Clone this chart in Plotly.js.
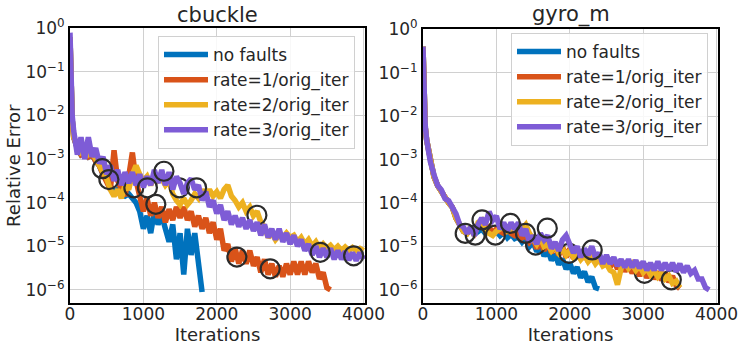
<!DOCTYPE html>
<html>
<head>
<meta charset="utf-8">
<script src="https://cdn.plot.ly/plotly-3.0.1.min.js"></script>
<style>html,body{margin:0;padding:0;background:#fff;}#chart{width:739px;height:345px;}</style>
</head>
<body>
<div id="chart"></div>
<script>
// Iteration grid shared by all series
const iterations = [0,15,30,50,100,150,200,250,300,350,400,450,500,550,600,650,700,750,800,850,900,950,1000,1050,1100,1150,1200,1250,1300,1350,1400,1450,1500,1550,1600,1650,1700,1750,1800,1850,1900,1950,2000,2050,2100,2150,2200,2250,2300,2350,2400,2450,2500,2550,2600,2650,2700,2750,2800,2850,2900,2950,3000,3050,3100,3150,3200,3250,3300,3350,3400,3450,3500,3550,3600,3650,3700,3750,3800,3850,3900,3950,4000];

const seriesNames = ["no faults", "rate=1/orig_iter", "rate=2/orig_iter", "rate=3/orig_iter"];
const seriesColors = ["#0072BD", "#D95319", "#EDB120", "#7E5CD6"];

// cbuckle: log10(relative error) (noisy band: alternating upper/lower edge)
const cbuckleNoFaultsLog = [-0.2,-1.6,-2.1,-2.5,-2.75,-2.9,-2.85,-2.95,-2.9,-3.05,-3.15,-3.35,-3.5,-3.65,-3.75,-3.7,-3.8,-3.85,-3.8,-3.9,-4.0,-4.2,-4.6,-4.3,-4.7,-4.2,-4.5,-4.3,-4.6,-4.9,-4.5,-5.3,-4.7,-5.65,-4.6,-5.2,-4.7,-5.5,-6.05];
const cbuckleRate1Log = [-0.2,-1.6,-2.1,-2.5,-2.75,-2.9,-2.85,-2.95,-2.9,-3.05,-3.15,-3.35,-3.5,-3.7,-2.8,-3.5,-3.7,-3.85,-3.4,-2.85,-3.5,-3.9,-4.2,-3.9,-4.3,-4.0,-4.35,-4.1,-4.45,-4.15,-4.4,-4.1,-4.35,-4.1,-4.4,-4.2,-4.55,-4.3,-4.6,-4.35,-4.7,-4.45,-4.85,-4.6,-5.1,-4.95,-5.35,-5.05,-5.4,-5.1,-5.4,-5.1,-5.45,-5.25,-5.6,-5.3,-5.65,-5.4,-5.7,-5.45,-5.7,-5.4,-5.65,-5.35,-5.65,-5.35,-5.65,-5.35,-5.6,-5.4,-5.75,-5.6,-5.95,-6.0];
const cbuckleRate2Log = [-0.2,-1.6,-2.1,-2.5,-2.7,-2.85,-2.8,-2.9,-2.85,-3.0,-3.1,-3.3,-3.45,-3.7,-3.85,-3.7,-3.9,-3.6,-3.7,-3.35,-3.15,-3.35,-3.5,-3.4,-3.6,-3.4,-3.5,-3.45,-3.6,-3.5,-3.8,-3.95,-4.05,-3.9,-4.05,-3.95,-3.8,-3.9,-3.7,-3.85,-3.7,-3.85,-3.75,-3.9,-3.7,-3.6,-3.85,-3.95,-4.1,-4.0,-4.2,-4.1,-4.3,-4.2,-4.45,-4.55,-4.8,-4.7,-4.85,-4.75,-4.8,-4.7,-4.8,-4.75,-4.9,-4.8,-4.95,-4.85,-5.0,-4.9,-5.05,-4.95,-5.05,-4.98,-5.08,-5.0,-5.1,-5.02,-5.1,-5.03,-5.1,-5.05,-5.1];
const cbuckleRate3Log = [-0.1,-1.6,-2.0,-2.35,-2.9,-2.5,-3.0,-2.5,-2.95,-2.75,-3.1,-2.95,-3.35,-3.15,-3.5,-3.25,-3.6,-3.3,-3.55,-3.3,-3.6,-3.35,-3.65,-3.4,-3.6,-3.25,-3.55,-3.25,-3.6,-3.3,-3.7,-3.4,-3.55,-3.8,-3.55,-3.45,-3.7,-3.6,-3.95,-3.75,-4.1,-3.95,-4.25,-4.05,-4.4,-4.2,-4.5,-4.3,-4.55,-4.35,-4.6,-4.4,-4.65,-4.45,-4.75,-4.5,-4.8,-4.6,-4.85,-4.6,-4.9,-4.7,-4.95,-4.75,-5.0,-4.85,-5.1,-4.95,-5.2,-5.0,-5.25,-5.05,-5.25,-5.05,-5.3,-5.1,-5.3,-5.12,-5.32,-5.15,-5.33,-5.15,-5.3];

// gyro_m: log10(relative error)
const gyroNoFaultsLog = [-0.4,-1.55,-2.25,-2.55,-3.05,-3.4,-3.6,-3.75,-3.9,-4.0,-4.1,-4.35,-4.5,-4.65,-4.7,-4.62,-4.72,-4.65,-4.6,-4.7,-4.62,-4.72,-4.65,-4.75,-4.68,-4.8,-4.72,-4.82,-4.78,-4.9,-4.8,-5.0,-4.9,-5.12,-5.0,-5.22,-5.08,-5.32,-5.18,-5.42,-5.28,-5.52,-5.38,-5.62,-5.48,-5.72,-5.58,-5.82,-5.7,-5.95,-5.98];
const gyroRate1Log = [-0.4,-1.55,-2.25,-2.55,-3.05,-3.4,-3.6,-3.75,-3.9,-4.0,-4.1,-4.35,-4.5,-4.65,-4.7,-4.6,-4.7,-4.5,-4.45,-4.6,-4.55,-4.7,-4.6,-4.65,-4.7,-4.6,-4.7,-4.75,-4.7,-4.8,-4.75,-4.9,-4.8,-5.05,-4.85,-5.1,-4.9,-5.15,-4.95,-5.2,-5.0,-5.25,-5.05,-5.28,-5.1,-5.3,-5.12,-5.35,-5.15,-5.38,-5.2,-5.42,-5.25,-5.48,-5.3,-5.52,-5.35,-5.58,-5.4,-5.62,-5.45,-5.68,-5.5,-5.72,-5.55,-5.75,-5.58,-5.78,-5.6,-5.82,-5.68,-5.9,-5.97];
const gyroRate2Log = [-0.4,-1.55,-2.25,-2.55,-3.05,-3.4,-3.6,-3.75,-3.9,-4.0,-4.1,-4.35,-4.5,-4.65,-4.7,-4.55,-4.75,-4.45,-4.4,-4.65,-4.7,-4.75,-4.65,-4.6,-4.55,-4.65,-4.6,-4.55,-4.5,-4.6,-4.5,-4.7,-4.85,-4.95,-4.8,-5.0,-4.95,-5.1,-5.0,-5.15,-5.05,-5.2,-5.1,-5.25,-5.15,-5.3,-5.2,-5.35,-5.25,-5.4,-5.3,-5.45,-5.4,-5.55,-5.6,-5.88,-5.5,-5.35,-5.5,-5.4,-5.55,-5.45,-5.6,-5.5,-5.65,-5.55,-5.7,-5.6,-5.75,-5.68,-5.85,-5.8,-5.95];
const gyroRate3Log = [-0.4,-1.5,-2.2,-2.55,-3.05,-3.35,-3.6,-3.7,-3.9,-3.95,-4.1,-4.25,-4.5,-4.55,-4.7,-4.55,-4.75,-4.5,-4.35,-4.5,-4.2,-4.4,-4.3,-4.6,-4.45,-4.65,-4.45,-4.6,-4.45,-4.75,-4.6,-4.9,-4.75,-4.95,-4.7,-4.85,-4.75,-5.05,-4.9,-5.1,-4.85,-4.75,-4.95,-5.15,-5.0,-5.25,-5.05,-5.2,-5.0,-5.25,-5.15,-5.4,-5.2,-5.4,-5.25,-5.45,-5.3,-5.48,-5.3,-5.48,-5.32,-5.5,-5.35,-5.55,-5.38,-5.55,-5.35,-5.55,-5.38,-5.55,-5.38,-5.58,-5.4,-5.6,-5.45,-5.62,-5.55,-5.75,-5.75,-5.95,-6.0];

// fault locations (iteration, log10 error)
const cbuckleFaultsRate1X = [2274, 2728];
const cbuckleFaultsRate1Log = [-5.25, -5.52];
const cbuckleFaultsRate2X = [870, 1170, 1490, 2547];
const cbuckleFaultsRate2Log = [-3.66, -4.04, -3.66, -4.29];
const cbuckleFaultsRate3X = [440, 530, 1055, 1280, 1725, 3410, 3865];
const cbuckleFaultsRate3Log = [-3.22, -3.47, -3.66, -3.28, -3.66, -5.14, -5.22];

const gyroFaultsRate1X = [1534, 3018];
const gyroFaultsRate1Log = [-4.97, -5.62];
const gyroFaultsRate2X = [712, 986, 1990, 3384];
const gyroFaultsRate2Log = [-4.74, -4.74, -5.16, -5.77];
const gyroFaultsRate3X = [575, 804, 1192, 1397, 1694, 2306];
const gyroFaultsRate3Log = [-4.70, -4.39, -4.47, -4.70, -4.58, -5.08];

const yTickVals = [1e-6, 1e-5, 1e-4, 1e-3, 1e-2, 1e-1, 1e0];
const yTickText = ["10<sup>\u22126</sup>","10<sup>\u22125</sup>","10<sup>\u22124</sup>","10<sup>\u22123</sup>","10<sup>\u22122</sup>","10<sup>\u22121</sup>","10<sup>0</sup>"];
const xTickVals = [0, 1000, 2000, 3000, 4000];

const pow10 = a => a.map(v => Math.pow(10, v));
const FONT = "DejaVu Sans, Verdana, sans-serif";
const TXT = "#262626";

function lineTrace(logVals, idx, xa, ya, legend) {
  return {
    x: iterations.slice(0, logVals.length), y: pow10(logVals),
    type: "scatter", mode: "lines", name: seriesNames[idx],
    line: {color: seriesColors[idx], width: 5.5},
    xaxis: xa, yaxis: ya, legend: legend, showlegend: true
  };
}
function faultTrace(xs, logs, xa, ya) {
  return {
    x: xs, y: pow10(logs), type: "scatter", mode: "markers",
    marker: {symbol: "circle-open", size: 19, color: "#2b2b2b", line: {width: 2.2, color: "#2b2b2b"}},
    xaxis: xa, yaxis: ya, showlegend: false, hoverinfo: "skip"
  };
}

const data = [
  lineTrace(cbuckleNoFaultsLog, 0, "x", "y", "legend"),
  lineTrace(cbuckleRate1Log, 1, "x", "y", "legend"),
  faultTrace(cbuckleFaultsRate1X, cbuckleFaultsRate1Log, "x", "y"),
  lineTrace(cbuckleRate2Log, 2, "x", "y", "legend"),
  faultTrace(cbuckleFaultsRate2X, cbuckleFaultsRate2Log, "x", "y"),
  lineTrace(cbuckleRate3Log, 3, "x", "y", "legend"),
  faultTrace(cbuckleFaultsRate3X, cbuckleFaultsRate3Log, "x", "y"),
  lineTrace(gyroNoFaultsLog, 0, "x2", "y2", "legend2"),
  lineTrace(gyroRate1Log, 1, "x2", "y2", "legend2"),
  faultTrace(gyroFaultsRate1X, gyroFaultsRate1Log, "x2", "y2"),
  lineTrace(gyroRate2Log, 2, "x2", "y2", "legend2"),
  faultTrace(gyroFaultsRate2X, gyroFaultsRate2Log, "x2", "y2"),
  lineTrace(gyroRate3Log, 3, "x2", "y2", "legend2"),
  faultTrace(gyroFaultsRate3X, gyroFaultsRate3Log, "x2", "y2")
];

const xBase = {
  range: [0, 4020], tickvals: xTickVals, showgrid: true, gridcolor: "#d0d0d0", gridwidth: 1,
  zeroline: false, showline: true, linecolor: "#000", linewidth: 2, mirror: true, ticks: "",
  ticklabelstandoff: -6,
  tickfont: {family: FONT, size: 17, color: TXT},
  title: {text: "Iterations", font: {family: FONT, size: 18, color: TXT}, standoff: 3}
};
const yBase = {
  type: "log", range: [-6.31, 0], tickvals: yTickVals, ticktext: yTickText,
  showgrid: true, gridcolor: "#d0d0d0", gridwidth: 1, zeroline: false,
  showline: true, linecolor: "#000", linewidth: 2, mirror: true, ticks: "",
  tickfont: {family: FONT, size: 17, color: TXT}
};
const legendBase = {
  font: {family: FONT, size: 17, color: TXT}, bgcolor: "rgba(255,255,255,0.85)",
  bordercolor: "#d0d0d0", borderwidth: 1, xanchor: "left", yanchor: "top", itemwidth: 44
};

const layout = {
  width: 739, height: 345, margin: {l: 0, r: 0, t: 0, b: 0},
  paper_bgcolor: "#fff", plot_bgcolor: "#fff", showlegend: true,
  font: {family: FONT, color: TXT},
  xaxis: Object.assign({}, xBase, {domain: [70/739, 365/739], anchor: "y"}),
  yaxis: Object.assign({}, yBase, {domain: [1 - 303.3/345, 1 - 28.3/345], anchor: "x",
    title: {text: "Relative Error", font: {family: FONT, size: 18, color: TXT}, standoff: 0}}),
  xaxis2: Object.assign({}, xBase, {domain: [423/739, 718/739], anchor: "y2"}),
  yaxis2: Object.assign({}, yBase, {domain: [1 - 303.3/345, 1 - 29.3/345], anchor: "x2"}),
  legend: Object.assign({}, legendBase, {x: 158/739, y: 1 - 36/345}),
  legend2: Object.assign({}, legendBase, {x: 511/739, y: 1 - 33/345}),
  annotations: [
    {text: "cbuckle", x: 217.5/739, y: 1 - 15/345, xref: "paper", yref: "paper", showarrow: false,
     xanchor: "center", yanchor: "middle", font: {family: FONT, size: 21, color: TXT}},
    {text: "gyro_m", x: 570.5/739, y: 1 - 15/345, xref: "paper", yref: "paper", showarrow: false,
     xanchor: "center", yanchor: "middle", font: {family: FONT, size: 21, color: TXT}}
  ]
};

Plotly.newPlot("chart", data, layout, {staticPlot: true, displayModeBar: false});
</script>
</body>
</html>
